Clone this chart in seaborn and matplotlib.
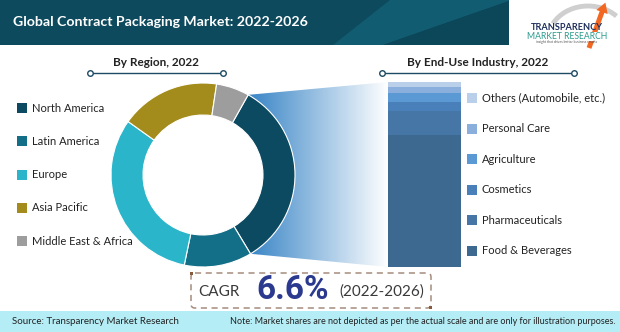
import numpy as np
import pandas as pd
import matplotlib
matplotlib.use("Agg")
import matplotlib.pyplot as plt
import seaborn as sns
from matplotlib import font_manager
from matplotlib.patches import Rectangle, Polygon, FancyBboxPatch, Arc, FancyArrow
from matplotlib.colors import LinearSegmentedColormap

# ---- data -------------------------------------------------------------
regions = ["North America", "Latin America", "Europe", "Asia Pacific",
           "Middle East & Africa"]
region_share = [33.2, 11.9, 31.6, 17.5, 5.8]
region_colors = ["#0b4a60", "#136e88", "#2bb5ca", "#a38c1b", "#9d9d9d"]

industries = ["Food & Beverages", "Pharmaceuticals", "Cosmetics",
              "Agriculture", "Personal Care", "Others (Automobile, etc.)"]
industry_share = [71.1, 13.2, 4.9, 4.7, 3.6, 2.5]
industry_colors = ["#3d6991", "#4676a6", "#4a80b9", "#5a99d4", "#8aafdd",
                   "#bacfea"]

title = "Global Contract Packaging Market: 2022-2026"
region_title = "By Region, 2022"
industry_title = "By End-Use Industry, 2022"
cagr_value = 6.6
cagr_period = "(2022-2026)"
source_text = "Source: Transparency Market Research"
note_text = ("Note: Market shares are not depicted as per the actual scale "
             "and are only for illustration purposes.")

# ---- canvas -----------------------------------------------------------
W, H = 620, 332
sns.set_theme(style="white")
plt.rcParams["font.family"] = ["Lato", "DejaVu Sans"]

installed = {f.name for f in font_manager.fontManager.ttflist}
narrow_family = ["Liberation Sans Narrow"] if "Liberation Sans Narrow" in installed else []
narrow_family += ["Roboto", "DejaVu Sans"]
big_size = 28 if "Liberation Sans Narrow" in installed else 24

fig = plt.figure(figsize=(W / 100, H / 100), dpi=100)
bg = fig.add_axes([0, 0, 1, 1])
bg.set_xlim(0, W)
bg.set_ylim(H, 0)
bg.axis("off")

# header banner
bg.add_patch(Rectangle((0, 0), 509, 45, color="#0d4a5e", lw=0))
bg.add_patch(Polygon([(333, 45), (390, 0), (509, 0), (509, 1), (383, 45)],
                     closed=True, color="#115c70", lw=0))
bg.add_patch(Polygon([(383, 45), (509, 1), (509, 45)],
                     closed=True, color="#0b4659", lw=0))
bg.text(13, 22, title, color="white", fontsize=10.2, fontweight="bold",
        va="center", ha="left")

# logo (y axis points down, so arc angles are negated)
bg.add_patch(Arc((588, 40), 80, 68, theta1=-155, theta2=-40,
                 color="#cfcfcf", lw=3.5, zorder=2))
bg.add_patch(FancyArrow(589, 48, 13, -36, width=5, head_width=12,
                        head_length=10, color="#f26722", lw=0, zorder=3))
bg.text(567, 27, "TRANSPARENCY", color="#1f2f5c", fontsize=6.6,
        fontweight="bold", ha="center", va="center", zorder=5)
bg.text(567, 36.5, "MARKET RESEARCH", color="#2b9c8c", fontsize=6.2,
        ha="center", va="center", zorder=5,
        bbox=dict(boxstyle="square,pad=0.05", fc="white", ec="none"))
bg.text(567, 42.5, "insight that drives better business results",
        color="#555555", fontsize=2.4, ha="center", va="center", zorder=5)

# section headings
line_col = "#1c4b63"
for label, hx, x0, x1 in [(region_title, 156, 90, 223),
                          (industry_title, 478, 382, 574)]:
    bg.text(hx, 62, label, fontsize=8.5, fontweight="bold",
            color="#222222", ha="center", va="center")
    bg.plot([x0, x1], [73, 73], color=line_col, lw=1)
    bg.plot([x0, x1], [73, 73], ls="none", marker="o", ms=4,
            mfc="white", mec=line_col, mew=1)

# ---- donut geometry -----------------------------------------------------
cx, cy, R = 203, 175, 92
start_angle = 60.6
bar_x0, bar_x1, bar_top, bar_bot = 388, 461, 82, 267

# gradient connector from the North America slice to the stacked bar
end_angle = start_angle - 360 * region_share[0] / sum(region_share)
theta = np.radians(np.linspace(start_angle, end_angle, 60))
arc_pts = [(cx + R * np.cos(t), cy - R * np.sin(t)) for t in theta]
poly = Polygon(arc_pts + [(bar_x0, bar_bot), (bar_x0, bar_top)],
               closed=True, facecolor="none", edgecolor="none")
bg.add_patch(poly)
grad_cmap = LinearSegmentedColormap.from_list("conn", ["#3482c5", "#ffffff"])
img = bg.imshow(np.linspace(0, 1, 256).reshape(1, -1), cmap=grad_cmap,
                extent=[arc_pts[0][0] - 2, bar_x0, bar_bot, bar_top],
                aspect="auto", zorder=1)
img.set_clip_path(poly)
bg.set_xlim(0, W)
bg.set_ylim(H, 0)

# donut chart
pax = fig.add_axes([(cx - 1.25 * R) / W, (H - cy - 1.25 * R) / H,
                    2.5 * R / W, 2.5 * R / H])
pax.pie(region_share, colors=region_colors, startangle=start_angle,
        counterclock=False, radius=1,
        wedgeprops=dict(width=0.348, edgecolor="white", linewidth=0.8))
pax.set_xlim(-1.25, 1.25)
pax.set_ylim(-1.25, 1.25)
pax.set_aspect("equal")
pax.axis("off")

# region legend
for i, (lab, col) in enumerate(zip(regions, region_colors)):
    y = 108 + i * 33.3
    bg.add_patch(Rectangle((17, y - 5), 10, 10, color=col, lw=0))
    bg.text(32, y, lab, fontsize=8, color="#222222", va="center")

# stacked bar of end-use industries
bax = fig.add_axes([bar_x0 / W, (H - bar_bot) / H,
                    (bar_x1 - bar_x0) / W, (bar_bot - bar_top) / H])
ind_df = pd.DataFrame({"segment": industries, "share": industry_share,
                       "color": industry_colors})
ind_df["top"] = ind_df["share"].cumsum()
ind_df["stack"] = "2022"
for _, row in ind_df.iloc[::-1].iterrows():
    sns.barplot(data=row.to_frame().T, x="stack", y="top", color=row["color"],
                saturation=1, width=1, linewidth=0, ax=bax)
bax.set_xlim(-0.5, 0.5)
bax.set_ylim(0, ind_df["top"].iloc[-1])
bax.axis("off")

# industry legend
for i, (lab, col) in enumerate(zip(industries[::-1], industry_colors[::-1])):
    y = 98 + i * 30.6
    bg.add_patch(Rectangle((467, y - 5), 10, 10, color=col, lw=0))
    bg.text(482, y, lab, fontsize=8, color="#222222", va="center")

# CAGR callout
bg.add_patch(FancyBboxPatch((191, 273), 240, 35,
                            boxstyle="round,pad=0,rounding_size=4",
                            fill=False, ec="#a58c7c", lw=1.1,
                            ls=(0, (4, 3))))
bg.add_patch(Rectangle((190, 272), 3, 3, color="#8a5a3c", lw=0))
bg.add_patch(Rectangle((429, 306), 3, 3, color="#8a5a3c", lw=0))
bg.text(198, 292, "CAGR", fontsize=11, color="#3a3a3a", va="center")
bg.text(293, 290, f"{cagr_value}%", fontsize=big_size, color="#2b3a8f",
        fontweight="bold", va="center", ha="center", family=narrow_family)
bg.text(382, 292, cagr_period, fontsize=11, color="#3a3a3a", va="center",
        ha="center")

# footer
bg.add_patch(Rectangle((0, 311), W, 21, color="#b5edf6", lw=0))
bg.text(12, 322, source_text, fontsize=7, color="#222222", va="center")
bg.text(616, 322, note_text, fontsize=6.5, color="#222222", va="center",
        ha="right")

fig.savefig("out.png", dpi=100)
